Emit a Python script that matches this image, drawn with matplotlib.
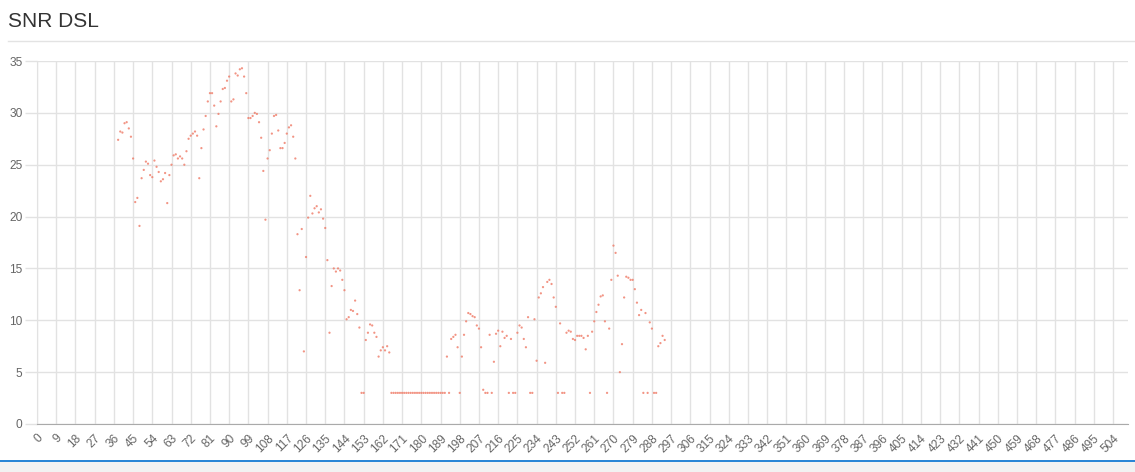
import matplotlib
matplotlib.use("Agg")
import matplotlib.pyplot as plt
from matplotlib.lines import Line2D
from matplotlib.patches import Rectangle

plt.rcParams['font.family'] = ['Liberation Sans', 'DejaVu Sans']

# x axis categories (0..511), labels every 9th
n_labels = 512
tick_step = 9

# SNR readings, one per index starting at snr_start
snr_start = 38
snr_values = [
    27.4, 28.2, 28.1, 29.0, 29.1, 28.5, 27.7, 25.6, 21.4, 21.8,   # 38-47
    19.1, 23.7, 24.5, 25.3, 25.1, 24.0, 23.8, 25.4, 24.8, 24.3,   # 48-57
    23.4, 23.6, 24.2, 21.3, 24.0, 25.0, 25.9, 26.0, 25.6, 25.8,   # 58-67
    25.6, 25.0, 26.3, 27.5, 27.8, 28.0, 28.2, 27.8, 23.7, 26.6,   # 68-77
    28.4, 29.7, 31.1, 31.9, 31.9, 30.7, 28.7, 29.9, 31.1, 32.3,   # 78-87
    32.4, 33.1, 33.5, 31.1, 31.3, 33.8, 33.6, 34.2, 34.3, 33.5,   # 88-97
    31.9, 29.5, 29.5, 29.7, 30.0, 29.9, 29.1, 27.6, 24.4, 19.7,   # 98-107
    25.6, 26.4, 28.0, 29.7, 29.8, 28.3, 26.6, 26.6, 27.1, 28.0,   # 108-117
    28.6, 28.8, 27.7, 25.6, 18.3, 12.9, 18.8, 7.0, 16.1, 19.9,    # 118-127
    22.0, 20.3, 20.8, 21.0, 20.4, 20.7, 19.8, 18.9, 15.8, 8.8,    # 128-137
    13.3, 15.0, 14.7, 15.0, 14.8, 13.9, 12.9, 10.1, 10.3, 11.0,   # 138-147
    10.9, 11.9, 10.6, 9.3, 3.0, 3.0, 8.1, 8.8, 9.6, 9.5,          # 148-157
    8.8, 8.4, 6.5, 7.1, 7.4, 7.1, 7.5, 6.9, 3.0, 3.0,             # 158-167
    3.0, 3.0, 3.0, 3.0, 3.0, 3.0, 3.0, 3.0, 3.0, 3.0,             # 168-177
    3.0, 3.0, 3.0, 3.0, 3.0, 3.0, 3.0, 3.0, 3.0, 3.0,             # 178-187
    3.0, 3.0, 3.0, 3.0, 6.5, 3.0, 8.2, 8.4, 8.6, 7.4,             # 188-197
    3.0, 6.5, 8.6, 9.9, 10.7, 10.6, 10.4, 10.3, 9.5, 9.2,         # 198-207
    7.4, 3.3, 3.0, 3.0, 8.6, 3.0, 6.0, 8.7, 9.0, 7.5,             # 208-217
    8.9, 8.3, 8.5, 3.0, 8.2, 3.0, 3.0, 8.8, 9.5, 9.3,             # 218-227
    8.2, 7.4, 10.3, 3.0, 3.0, 10.1, 6.1, 12.2, 12.6, 13.2,        # 228-237
    5.9, 13.7, 13.9, 13.5, 12.2, 11.3, 3.0, 9.7, 3.0, 3.0,        # 238-247
    8.8, 9.0, 8.9, 8.2, 8.1, 8.5, 8.5, 8.5, 8.3, 7.2,             # 248-257
    8.5, 3.0, 8.9, 9.9, 10.8, 11.5, 12.3, 12.4, 9.9, 3.0,         # 258-267
    9.2, 13.9, 17.2, 16.5, 14.3, 5.0, 7.7, 12.2, 14.2, 14.1,      # 268-277
    13.9, 13.9, 13.0, 11.7, 10.5, 11.0, 3.0, 10.7, 3.0, 9.8,      # 278-287
    9.2, 3.0, 3.0, 7.5, 7.8, 8.5, 8.1,                            # 288-294
]
snr_x = list(range(snr_start, snr_start + len(snr_values)))

y_ticks = [0, 5, 10, 15, 20, 25, 30, 35]

W, H = 1135, 472
fig = plt.figure(figsize=(W / 100, H / 100), dpi=100)

# title + separator
fig.text(8 / W, 1 - 27 / H, "SNR DSL", fontsize=15, color='#333333',
         ha='left', va='baseline')
fig.add_artist(Line2D([8 / W, 1], [1 - 40.5 / H, 1 - 40.5 / H],
                      color='#e3e3e3', linewidth=1.0))

# bottom blue bar and grey strip
fig.add_artist(Rectangle((0, 0), 1, 10 / H, transform=fig.transFigure,
                         facecolor='#f2f2f2', edgecolor='none'))
fig.add_artist(Rectangle((0, 10 / H), 1, 2 / H, transform=fig.transFigure,
                         facecolor='#2a86d6', edgecolor='none'))

left, right, top, bottom = 37, 1128, 61, 424
ax = fig.add_axes([left / W, 1 - bottom / H, (right - left) / W, (bottom - top) / H])

ax.scatter(snr_x, snr_values, s=2.6, color='#ef7a66', edgecolors='none',
           alpha=0.8, zorder=3)

ax.set_xlim(0, n_labels - 1)
ax.set_ylim(0, 35)

xt = list(range(0, n_labels, tick_step))
ax.set_xticks(xt)
ax.set_xticklabels([str(v) for v in xt], rotation=45, ha='right', va='top',
                   rotation_mode='anchor')
ax.set_yticks(y_ticks)

ax.tick_params(axis='x', length=0, pad=6, labelsize=8.6, labelcolor='#666666')
ax.tick_params(axis='y', length=9, width=1, color='#e2e2e2', pad=1.5,
               labelsize=8.6, labelcolor='#666666')

ax.grid(True, color='#e2e2e2', linewidth=1.0)
ax.set_axisbelow(True)

for side in ['top', 'right']:
    ax.spines[side].set_visible(False)
ax.spines['left'].set_color('#e2e2e2')
ax.spines['bottom'].set_color('#aaaaaa')

fig.savefig('out.png', dpi=100)
